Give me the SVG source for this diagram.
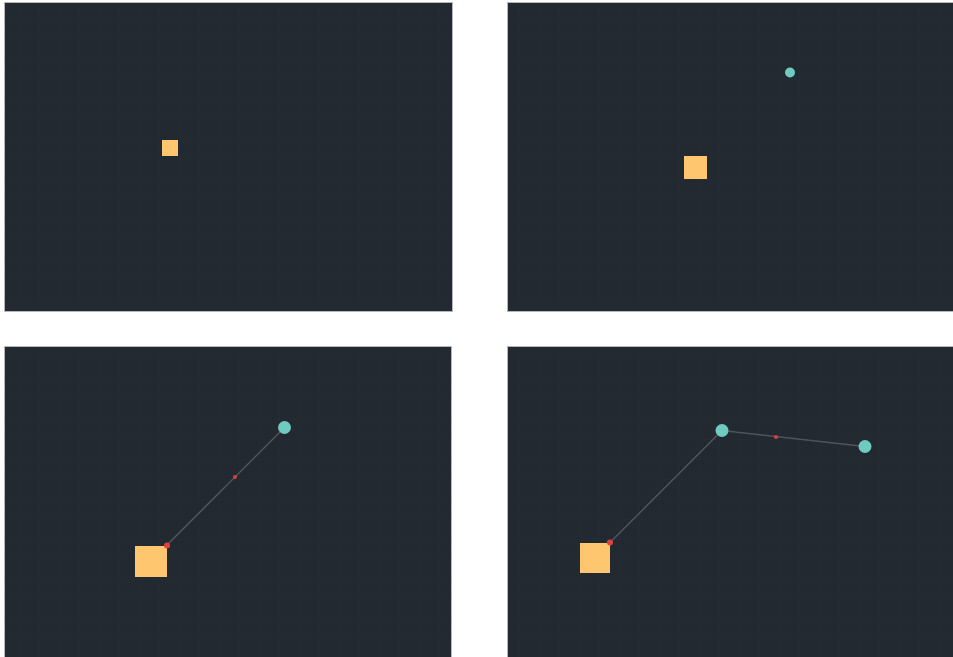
<svg xmlns="http://www.w3.org/2000/svg" width="953" height="657" viewBox="0 0 953 657">
<defs>
<style>
.panel{fill:#222931;stroke:#b4b6b9;stroke-width:1}
.sq{fill:#ffc670}
.node{fill:#6fcac0}
.edge{stroke:#50545b;stroke-width:1.5;fill:none}
.port{fill:#e3403c}
.mid{fill:#d8403c}
</style>
<pattern id="grid" width="20" height="20" patternUnits="userSpaceOnUse">
<path d="M20 0V20M0 20H20" stroke="#283039" stroke-width="1" fill="none"/>
</pattern>
</defs>
<rect width="953" height="657" fill="#ffffff"/>
<g id="panels">
<rect class="panel" x="4.5" y="2.5" width="448" height="309"/>
<rect class="panel" x="507.5" y="2.5" width="446" height="309"/>
<rect class="panel" x="4.5" y="346.5" width="447" height="311"/>
<rect class="panel" x="507.5" y="346.5" width="446" height="311"/>
<rect x="5" y="3" width="447" height="308" fill="url(#grid)" opacity="0.5"/>
<rect x="508" y="3" width="445" height="308" fill="url(#grid)" opacity="0.5"/>
<rect x="5" y="347" width="446" height="310" fill="url(#grid)" opacity="0.5"/>
<rect x="508" y="347" width="445" height="310" fill="url(#grid)" opacity="0.5"/>
</g>
<g id="connectors">
<line class="edge" x1="167" y1="545" x2="284.5" y2="427.5"/>
<line class="edge" x1="610" y1="542.5" x2="722" y2="430.5"/>
<line class="edge" x1="722" y1="430.5" x2="865" y2="446.5"/>
</g>
<g id="p1-square"><rect class="sq" x="162" y="140" width="16" height="16"/></g>
<g id="p2-square"><rect class="sq" x="684" y="156" width="23" height="23"/></g>
<g id="p2-node"><circle class="node" cx="790" cy="72.5" r="5"/></g>
<g id="p3-square"><rect class="sq" x="135" y="546" width="32" height="31"/></g>
<g id="p3-node"><circle class="node" cx="284.5" cy="427.5" r="6.5"/></g>
<g id="p3-ports">
<circle class="port" cx="167" cy="545.5" r="3"/>
<circle class="mid" cx="235" cy="477" r="2"/>
</g>
<g id="p4-square"><rect class="sq" x="580" y="543" width="30" height="30"/></g>
<g id="p4-node1"><circle class="node" cx="722" cy="430.5" r="6.5"/></g>
<g id="p4-node2"><circle class="node" cx="865" cy="446.5" r="6.5"/></g>
<g id="p4-ports">
<circle class="port" cx="610" cy="542.5" r="3"/>
<circle class="mid" cx="776" cy="437" r="2"/>
</g>
</svg>
